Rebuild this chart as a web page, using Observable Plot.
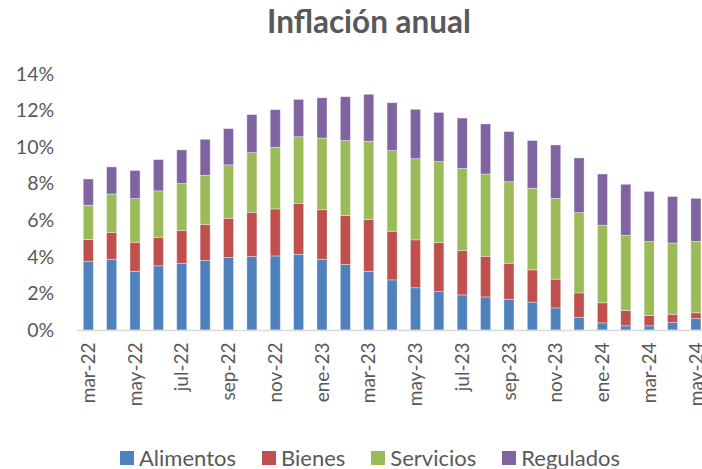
<!DOCTYPE html>
<html>
<head>
<meta charset="utf-8">
<script src="https://cdn.jsdelivr.net/npm/d3@7"></script>
<script src="https://cdn.jsdelivr.net/npm/@observablehq/plot@0.6"></script>
<style>
  html, body { margin: 0; padding: 0; background: #fff; overflow: hidden; }
  #wrap { position: relative; width: 702px; height: 469px; font-family: Lato, "Noto Sans", sans-serif; color: #595959; }
  #title { position: absolute; top: 2px; left: 0; width: 738px; text-align: center; font-weight: bold; font-size: 31.5px; }
  #chart { position: absolute; top: 45px; left: 0; }
  #chart svg { overflow: visible; }
  #legend { position: absolute; top: 447px; left: 120px; display: flex; align-items: center; font-size: 22px; line-height: 22px; white-space: nowrap; }
  .item { display: flex; align-items: center; }
  .sw { width: 14px; height: 14px; margin-right: 5px; }
</style>
</head>
<body>
<div id="wrap">
  <div id="title">Inflación anual</div>
  <div id="chart"></div>
  <div id="legend"></div>
</div>
<script>
const months = ["mar-22","abr-22","may-22","jun-22","jul-22","ago-22","sep-22","oct-22","nov-22","dic-22","ene-23","feb-23","mar-23","abr-23","may-23","jun-23","jul-23","ago-23","sep-23","oct-23","nov-23","dic-23","ene-24","feb-24","mar-24","abr-24","may-24"];
const alimentos = [3.76,3.87,3.21,3.51,3.65,3.81,3.96,4.02,4.05,4.14,3.87,3.58,3.21,2.74,2.31,2.10,1.92,1.81,1.68,1.52,1.21,0.70,0.39,0.23,0.23,0.41,0.63];
const bienes = [1.19,1.47,1.59,1.56,1.80,1.97,2.15,2.42,2.57,2.79,2.71,2.69,2.84,2.66,2.62,2.68,2.42,2.22,1.97,1.77,1.57,1.33,1.10,0.84,0.56,0.45,0.31];
const servicios = [1.87,2.10,2.39,2.54,2.56,2.68,2.92,3.26,3.37,3.64,3.92,4.09,4.27,4.41,4.44,4.43,4.50,4.50,4.46,4.46,4.42,4.39,4.24,4.11,4.05,3.90,3.90];
const regulados = [1.44,1.48,1.53,1.71,1.84,1.97,1.98,2.08,2.06,2.04,2.20,2.40,2.57,2.62,2.70,2.69,2.75,2.74,2.74,2.61,2.92,2.99,2.80,2.79,2.74,2.54,2.36];
const seriesNames = ["Alimentos","Bienes","Servicios","Regulados"];
const seriesColors = ["#4F81BD","#C0504D","#9BBB59","#8064A2"];
const yTicks = [0,2,4,6,8,10,12,14];
const xTicks = months.filter((d, i) => i % 2 === 0);

const seriesValues = [alimentos, bienes, servicios, regulados];
const data = [];
seriesNames.forEach((s, k) => months.forEach((m, i) => data.push({month: m, series: s, value: seriesValues[k][i]})));

const textColor = "#595959";
const chart = Plot.plot({
  width: 702,
  height: 380,
  marginTop: 29,
  marginBottom: 95,
  marginLeft: 76.6,
  marginRight: -5.6,
  style: {fontFamily: "Lato, 'Noto Sans', sans-serif", color: textColor, background: "transparent", overflow: "visible"},
  x: {domain: months, paddingInner: 0.57, paddingOuter: 0.285, round: false},
  y: {domain: [0, 14]},
  color: {domain: seriesNames, range: seriesColors},
  marks: [
    Plot.barY(data, {x: "month", y: "value", fill: "series", stroke: "white", strokeOpacity: 0.45, strokeWidth: 0.8}),
    Plot.ruleY([0], {stroke: "#d9d9d9", strokeWidth: 1.5}),
    Plot.axisY({ticks: yTicks, tickFormat: d => d + "%", tickSize: 0, tickPadding: 23, label: null, fontSize: 19.5, fill: textColor}),
    Plot.axisX({ticks: xTicks, tickRotate: -90, tickSize: 0, tickPadding: 12, label: null, fontSize: 19, fill: textColor})
  ]
});
document.getElementById("chart").appendChild(chart);

const legend = document.getElementById("legend");
seriesNames.forEach((s, k) => {
  const it = document.createElement("div");
  it.className = "item";
  it.style.marginRight = k < seriesNames.length - 1 ? "26px" : "0";
  const sw = document.createElement("span");
  sw.className = "sw";
  sw.style.background = seriesColors[k];
  const tx = document.createElement("span");
  tx.textContent = s;
  it.appendChild(sw); it.appendChild(tx);
  legend.appendChild(it);
});
</script>
</body>
</html>
